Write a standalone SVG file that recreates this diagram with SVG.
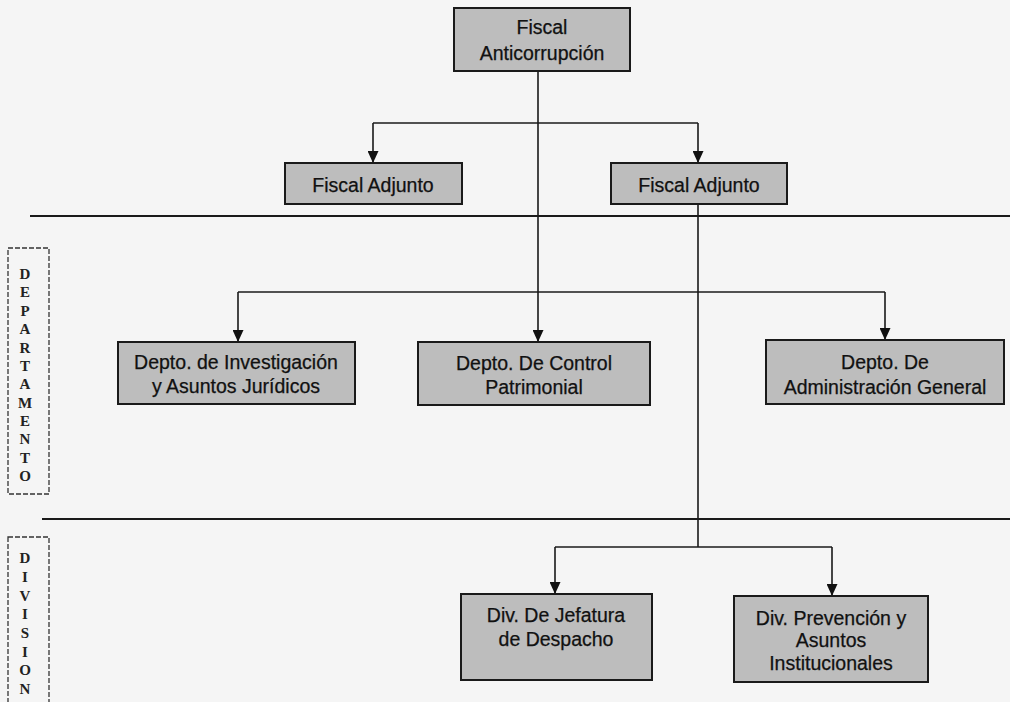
<svg xmlns="http://www.w3.org/2000/svg" width="1010" height="702" viewBox="0 0 1010 702">
<defs>
<marker id="arr" markerWidth="12" markerHeight="11" refX="12" refY="5.5" orient="auto" markerUnits="userSpaceOnUse" viewBox="0 0 12 11">
<path d="M0,0 L12,5.5 L0,11 Z" fill="#111"/>
</marker>
</defs>
<style>
.box{fill:#bdbdbd;stroke:#1a1a1a;stroke-width:2}
.t{font-family:"Liberation Sans",Arial,sans-serif;font-size:19.5px;fill:#111;stroke:#111;stroke-width:0.25;text-anchor:middle}
.c{fill:none;stroke:#1a1a1a;stroke-width:1.6}
.sep{stroke:#1a1a1a;stroke-width:1.8}
.lbl{fill:none;stroke:#333;stroke-width:1.3;stroke-dasharray:5 2}
.v{font-family:"Liberation Serif","Times New Roman",serif;font-size:15px;font-weight:bold;fill:#222;text-anchor:middle}
</style>
<rect width="1010" height="702" fill="#f5f5f5"/>
<g id="connectors">
<line class="c" x1="538" y1="71" x2="538" y2="342" marker-end="url(#arr)"/>
<polyline class="c" points="373,123 698,123"/>
<line class="c" x1="373" y1="123" x2="373" y2="163" marker-end="url(#arr)"/>
<line class="c" x1="698" y1="123" x2="698" y2="163" marker-end="url(#arr)"/>
<polyline class="c" points="238,292 885,292"/>
<line class="c" x1="238" y1="292" x2="238" y2="342" marker-end="url(#arr)"/>
<line class="c" x1="885" y1="292" x2="885" y2="340" marker-end="url(#arr)"/>
<line class="c" x1="698" y1="204" x2="698" y2="547"/>
<polyline class="c" points="555,547 832,547"/>
<line class="c" x1="555" y1="547" x2="555" y2="594" marker-end="url(#arr)"/>
<line class="c" x1="832" y1="547" x2="832" y2="596" marker-end="url(#arr)"/>
</g>
<g id="separators">
<line class="sep" x1="30" y1="216" x2="1010" y2="216"/>
<line class="sep" x1="42" y1="519" x2="1010" y2="519"/>
</g>
<g id="label-departamento">
<rect class="lbl" x="8" y="248" width="41" height="246"/>
<text class="v"><tspan x="25" y="279">D</tspan><tspan x="25" y="297">E</tspan><tspan x="25" y="316">P</tspan><tspan x="25" y="334">A</tspan><tspan x="25" y="353">R</tspan><tspan x="25" y="371">T</tspan><tspan x="25" y="389">A</tspan><tspan x="25" y="408">M</tspan><tspan x="25" y="426">E</tspan><tspan x="25" y="444">N</tspan><tspan x="25" y="463">T</tspan><tspan x="25" y="481">O</tspan></text>
</g>
<g id="label-division">
<rect class="lbl" x="8" y="537" width="41" height="175"/>
<text class="v"><tspan x="25" y="563">D</tspan><tspan x="25" y="582">I</tspan><tspan x="25" y="601">V</tspan><tspan x="25" y="619">I</tspan><tspan x="25" y="638">S</tspan><tspan x="25" y="657">I</tspan><tspan x="25" y="675">O</tspan><tspan x="25" y="694">N</tspan></text>
</g>
<g id="fiscal-anticorrupcion">
<rect class="box" x="454" y="8" width="176" height="63"/>
<text class="t" x="542" y="34">Fiscal</text>
<text class="t" x="542" y="60">Anticorrupción</text>
</g>
<g id="fiscal-adjunto-1">
<rect class="box" x="285" y="163" width="177" height="41"/>
<text class="t" x="373" y="192">Fiscal Adjunto</text>
</g>
<g id="fiscal-adjunto-2">
<rect class="box" x="611" y="163" width="176" height="41"/>
<text class="t" x="699" y="192">Fiscal Adjunto</text>
</g>
<g id="depto-investigacion">
<rect class="box" x="118" y="342" width="237" height="62"/>
<text class="t" x="236" y="369">Depto. de Investigación</text>
<text class="t" x="236" y="393">y Asuntos Jurídicos</text>
</g>
<g id="depto-control">
<rect class="box" x="418" y="342" width="232" height="63"/>
<text class="t" x="534" y="370">Depto. De Control</text>
<text class="t" x="534" y="394">Patrimonial</text>
</g>
<g id="depto-administracion">
<rect class="box" x="766" y="340" width="238" height="64"/>
<text class="t" x="885" y="369">Depto. De</text>
<text class="t" x="885" y="394">Administración General</text>
</g>
<g id="div-jefatura">
<rect class="box" x="461" y="594" width="191" height="86"/>
<text class="t" x="556" y="622">Div. De Jefatura</text>
<text class="t" x="556" y="646">de Despacho</text>
</g>
<g id="div-prevencion">
<rect class="box" x="734" y="596" width="194" height="86"/>
<text class="t" x="831" y="625">Div. Prevención y</text>
<text class="t" x="831" y="647">Asuntos</text>
<text class="t" x="831" y="670">Institucionales</text>
</g>
</svg>
